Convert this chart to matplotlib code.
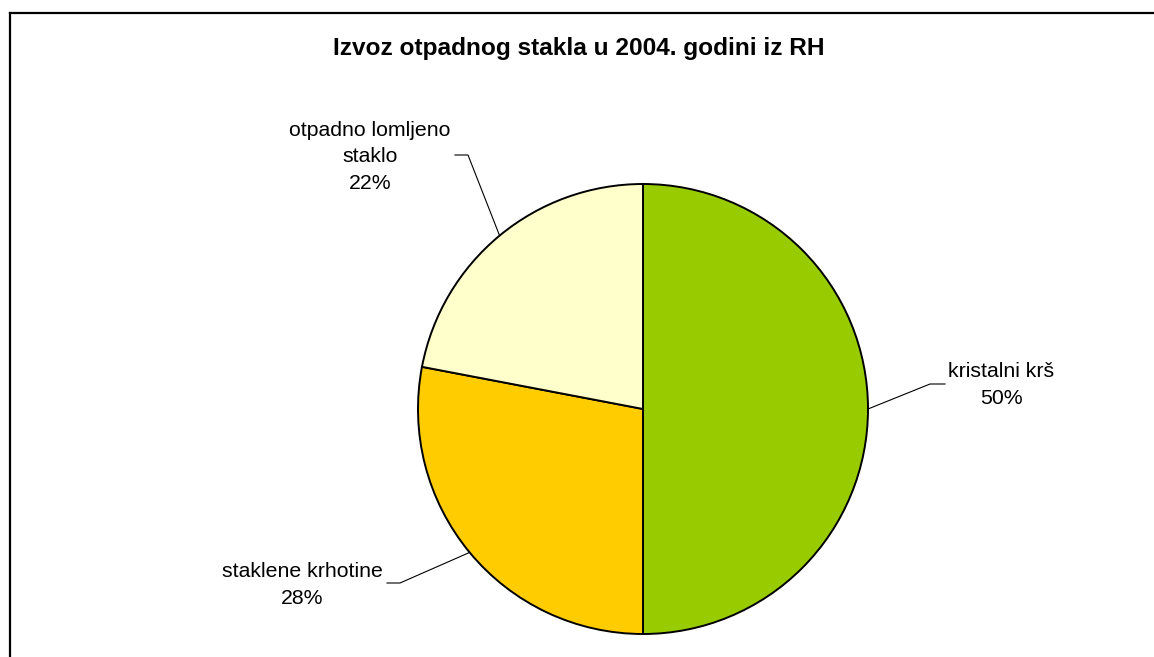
import numpy as np
import matplotlib
matplotlib.use("Agg")
import matplotlib.pyplot as plt
from matplotlib.lines import Line2D
from matplotlib import font_manager

plt.rcParams['font.family'] = ['Liberation Sans', 'DejaVu Sans']

TITLE = "Izvoz otpadnog stakla u 2004. godini iz RH"
labels = ["kristalni krš", "staklene krhotine", "otpadno lomljeno\nstaklo"]
shares = [50, 28, 22]
colors = ["#99CC00", "#FFCC00", "#FFFFCC"]

W, H = 1154, 657


def flip(y):
    # pixel row (from top) -> data y (from bottom)
    return H - y


def bold_font(size):
    # pick the regular-width Liberation Sans Bold (not the Narrow one)
    for f in font_manager.fontManager.ttflist:
        if (f.name == "Liberation Sans" and f.weight in (700, "bold")
                and f.style == "normal" and "Narrow" not in f.fname):
            return font_manager.FontProperties(fname=f.fname, size=size)
    return font_manager.FontProperties(family="DejaVu Sans", weight="bold", size=size)


def main():
    fig = plt.figure(figsize=(W / 100, H / 100), dpi=100)
    ax = fig.add_axes([0, 0, 1, 1])

    # chart area frame (only top and left edges visible)
    fig.add_artist(Line2D([9.5 / W, 9.5 / W], [0, flip(12.5) / H], color="black", lw=1.6))
    fig.add_artist(Line2D([9.5 / W, 1], [flip(12.5) / H, flip(12.5) / H], color="black", lw=1.6))

    cx, cy, r = 643, flip(409), 225
    wedges, _ = ax.pie(shares, colors=colors, startangle=90, counterclock=False,
                       center=(cx, cy), radius=r, frame=True,
                       wedgeprops=dict(edgecolor="black", linewidth=1.4))
    ax.set_xlim(0, W)
    ax.set_ylim(0, H)
    ax.set_aspect("equal")
    ax.axis("off")

    ax.text(579, flip(49), TITLE, ha="center", va="center",
            fontproperties=bold_font(17.6))

    # label layout: text centre, elbow, end of horizontal leader
    text_pos = [(1001, 385), (302, 585), (370, 157)]
    elbows = [(930, 384), (400, 583), (468, 155)]
    ends = [(945, 384), (387, 583), (455, 155)]

    for w, lab, s, tp, el, en in zip(wedges, labels, shares, text_pos, elbows, ends):
        mid = np.deg2rad((w.theta1 + w.theta2) / 2)
        px = cx + r * np.cos(mid)
        py = cy + r * np.sin(mid)
        ax.plot([px, el[0], en[0]], [py, flip(el[1]), flip(en[1])],
                color="black", lw=0.8)
        ax.text(tp[0], flip(tp[1]), f"{lab}\n{s}%", ha="center", va="center",
                fontsize=15.3, linespacing=1.5)

    fig.savefig("out.png", dpi=100)


if __name__ == '__main__':
    main()
